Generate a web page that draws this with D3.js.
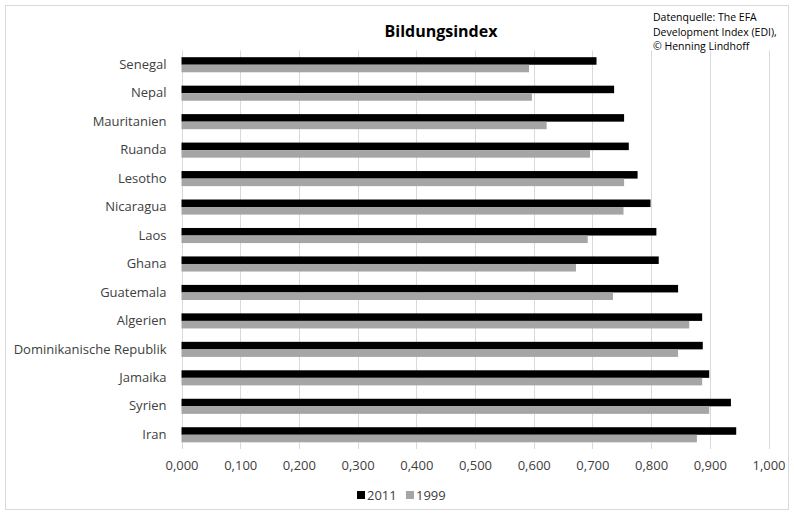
<!DOCTYPE html>
<html>
<head>
<meta charset="utf-8">
<script src="https://cdn.jsdelivr.net/npm/d3@7"></script>
<style>
  html, body { margin: 0; padding: 0; background: #fff; }
  svg { display: block; font-family: "Open Sans", "Liberation Sans", sans-serif; }
</style>
</head>
<body>
<svg id="chart" width="794" height="515"></svg>
<script>
// Education Development Index per country, 2011 vs 1999
const countries = ["Senegal", "Nepal", "Mauritanien", "Ruanda", "Lesotho", "Nicaragua", "Laos",
  "Ghana", "Guatemala", "Algerien", "Dominikanische Republik", "Jamaika", "Syrien", "Iran"];
const values2011 = [0.707, 0.737, 0.754, 0.762, 0.777, 0.799, 0.809, 0.813, 0.846, 0.887, 0.888, 0.899, 0.936, 0.945];
const values1999 = [0.592, 0.597, 0.622, 0.696, 0.754, 0.753, 0.692, 0.672, 0.735, 0.865, 0.846, 0.887, 0.899, 0.878];
const seriesNames = ["2011", "1999"];
const seriesColors = ["#000000", "#a5a5a5"];
const xTicks = [0, 0.1, 0.2, 0.3, 0.4, 0.5, 0.6, 0.7, 0.8, 0.9, 1.0];

const W = 794, H = 515;
const plot = { left: 181.5, right: 768.5, top: 50.5, bottom: 449 };

const svg = d3.select("#chart");

// outer chart frame
svg.append("rect")
  .attr("x", 5.5).attr("y", 5.5)
  .attr("width", W - 11).attr("height", H - 11)
  .attr("fill", "#fff").attr("stroke", "#d9d9d9").attr("stroke-width", 1);

const x = d3.scaleLinear().domain([0, 1]).range([plot.left, plot.right]);
const y = d3.scaleBand().domain(countries).range([plot.top, plot.bottom]).paddingInner(0.47).paddingOuter(0.235);
const inner = d3.scaleBand().domain(seriesNames).range([0, y.bandwidth()]);

// vertical gridlines
svg.append("g")
  .selectAll("line")
  .data(xTicks)
  .join("line")
  .attr("x1", d => Math.round(x(d)) + 0.5)
  .attr("x2", d => Math.round(x(d)) + 0.5)
  .attr("y1", plot.top)
  .attr("y2", plot.bottom)
  .attr("stroke", "#d9d9d9")
  .attr("stroke-width", 1);

// bars
const series = [values2011, values1999];
series.forEach((vals, si) => {
  svg.append("g")
    .selectAll("rect")
    .data(countries)
    .join("rect")
    .attr("x", x(0))
    .attr("y", d => y(d) + inner(seriesNames[si]))
    .attr("width", (d, i) => x(vals[i]) - x(0))
    .attr("height", inner.bandwidth())
    .attr("fill", seriesColors[si]);
});

// x axis tick labels
const xAxis = d3.axisBottom(x)
  .tickValues(xTicks)
  .tickSize(0)
  .tickPadding(0)
  .tickFormat(d => d3.format(".3f")(d).replace(".", ","));
const gx = svg.append("g")
  .attr("transform", `translate(0,${plot.bottom + 12})`)
  .call(xAxis);
gx.select(".domain").remove();
gx.selectAll("text")
  .attr("font-size", 13)
  .attr("fill", "#404040")
  .attr("font-family", "'Open Sans', sans-serif");

// category labels
const yAxis = d3.axisLeft(y).tickSize(0).tickPadding(15);
const gy = svg.append("g")
  .attr("transform", `translate(${plot.left},0)`)
  .call(yAxis);
gy.select(".domain").remove();
gy.selectAll("text")
  .attr("font-size", 13)
  .attr("fill", "#404040")
  .attr("font-family", "'Open Sans', sans-serif");

// title
svg.append("text")
  .attr("x", 441).attr("y", 37)
  .attr("text-anchor", "middle")
  .attr("font-size", 16)
  .attr("font-weight", "bold")
  .attr("fill", "#000")
  .text("Bildungsindex");

// source note
const note = ["Datenquelle: The EFA", "Development Index (EDI),", "© Henning Lindhoff"];
svg.append("g")
  .selectAll("text")
  .data(note)
  .join("text")
  .attr("x", 653)
  .attr("y", (d, i) => 21 + i * 14.5)
  .attr("font-size", 10.5)
  .attr("fill", "#000")
  .text(d => d);

// legend
const legend = svg.append("g").attr("transform", "translate(357,495)");
const legendX = [0, 49];
seriesNames.forEach((name, i) => {
  legend.append("rect")
    .attr("x", legendX[i]).attr("y", -4)
    .attr("width", 8).attr("height", 8)
    .attr("fill", seriesColors[i]);
  legend.append("text")
    .attr("x", legendX[i] + 10).attr("y", 0)
    .attr("dy", "0.35em")
    .attr("font-size", 13)
    .attr("fill", "#404040")
    .text(name);
});
</script>
</body>
</html>
